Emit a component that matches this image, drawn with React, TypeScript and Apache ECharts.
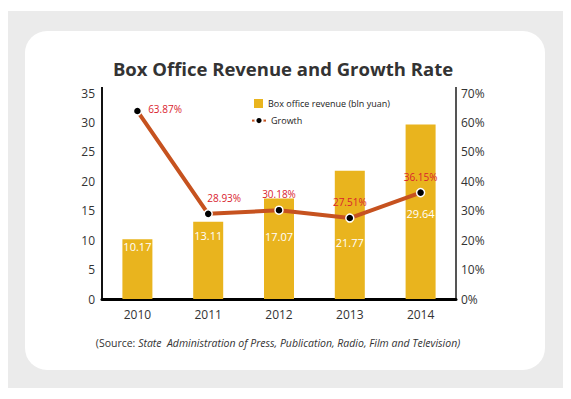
import React, { useEffect, useRef } from "react";
import * as echarts from "echarts";

const years = ["2010", "2011", "2012", "2013", "2014"];
const revenue = [10.17, 13.11, 17.07, 21.77, 29.64];
const growth = [63.87, 28.93, 30.18, 27.51, 36.15];
const titleText = "Box Office Revenue and Growth Rate";
const revenueName = "Box office revenue (bln yuan)";
const growthName = "Growth";

export default function App() {
  const ref = useRef<HTMLDivElement>(null);
  useEffect(() => {
    document.body.style.margin = "0";
    const chart = echarts.init(ref.current!, null, { renderer: "svg" });
    const font = "'Open Sans', sans-serif";
    const barLabelShift = [-3, 3, 27, 61, 78];
    chart.setOption({
      animation: false,
      textStyle: { fontFamily: font },
      graphic: [
        { type: "rect", z: -10, shape: { x: 8, y: 11, width: 555, height: 377 }, style: { fill: "#ebebeb" } },
        { type: "rect", z: -9, shape: { x: 25, y: 31, width: 520, height: 339, r: 22 }, style: { fill: "#ffffff" } },
        { type: "line", shape: { x1: 102, y1: 87, x2: 102, y2: 94 }, style: { stroke: "#111", lineWidth: 2 } },
        { type: "line", shape: { x1: 456, y1: 87, x2: 456, y2: 94 }, style: { stroke: "#555", lineWidth: 2 } },
        {
          type: "text", x: 283, y: 68,
          style: { text: titleText, fill: "#333", font: "bold 18.5px 'Open Sans', sans-serif", align: "center", verticalAlign: "middle" },
        },
        {
          type: "text", x: 278, y: 343,
          style: {
            text: "{n|(Source: }{i|State  Administration of Press, Publication, Radio, Film and Television)}",
            align: "center", verticalAlign: "middle",
            rich: {
              n: { fontSize: 10.5, fontFamily: font, fill: "#333" },
              i: { fontSize: 10.5, fontFamily: font, fontStyle: "italic", fill: "#333" },
            },
          },
        },
      ],
      legend: [
        {
          data: [revenueName], left: 249, top: 94, itemWidth: 9, itemHeight: 9, icon: "rect",
          textStyle: { fontSize: 9, color: "#222", fontFamily: font }, itemGap: 4,
        },
        {
          data: [growthName], left: 246, top: 111, itemWidth: 14, itemHeight: 9, itemGap: 4,
          textStyle: { fontSize: 9, color: "#222", fontFamily: font },
        },
      ],
      grid: { left: 102, right: 115, top: 93, bottom: 100 },
      xAxis: {
        type: "category", data: years,
        axisLine: { lineStyle: { color: "#000", width: 3 } },
        axisTick: { show: false },
        axisLabel: { color: "#333", fontSize: 12, margin: 9 },
      },
      yAxis: [
        {
          type: "value", min: 0, max: 35, interval: 5, position: "left",
          axisLine: { show: true, lineStyle: { color: "#111", width: 2 } },
          axisTick: { show: false }, splitLine: { show: false },
          axisLabel: { color: "#333", fontSize: 12, margin: 7 },
        },
        {
          type: "value", min: 0, max: 70, interval: 10, position: "right",
          axisLine: { show: true, lineStyle: { color: "#555", width: 2 } },
          axisTick: { show: false }, splitLine: { show: false },
          axisLabel: { color: "#333", fontSize: 12, margin: 5, formatter: "{value}%" },
        },
      ],
      series: [
        {
          name: revenueName, type: "bar", barWidth: 30,
          data: revenue.map((v, i) => ({ value: v, label: { offset: [0, barLabelShift[i]] } })),
          itemStyle: { color: "#E9B41E" },
          label: { show: true, position: "insideTop", distance: 5, color: "#fff", fontSize: 11, formatter: (p: any) => p.value.toFixed(2) },
        },
        {
          name: growthName, type: "line", yAxisIndex: 1,
          data: growth.map((v, i) => ({
            value: v,
            label: i === 0 ? { position: "right", offset: [0, -2] } : i === 1 ? { position: "top", offset: [16, 0] } : { position: "top", offset: [0, 0] },
          })),
          lineStyle: { color: "#C6521F", width: 4 },
          symbol: "circle", symbolSize: 8,
          itemStyle: { color: "#000", borderColor: "#fff", borderWidth: 1.5 },
          label: { show: true, color: "#D9232E", fontSize: 10, distance: 6, formatter: (p: any) => p.value.toFixed(2) + "%" },
          z: 5,
        },
      ],
    });
    return () => chart.dispose();
  }, []);
  return <div ref={ref} style={{ width: 571, height: 399 }} />;
}
